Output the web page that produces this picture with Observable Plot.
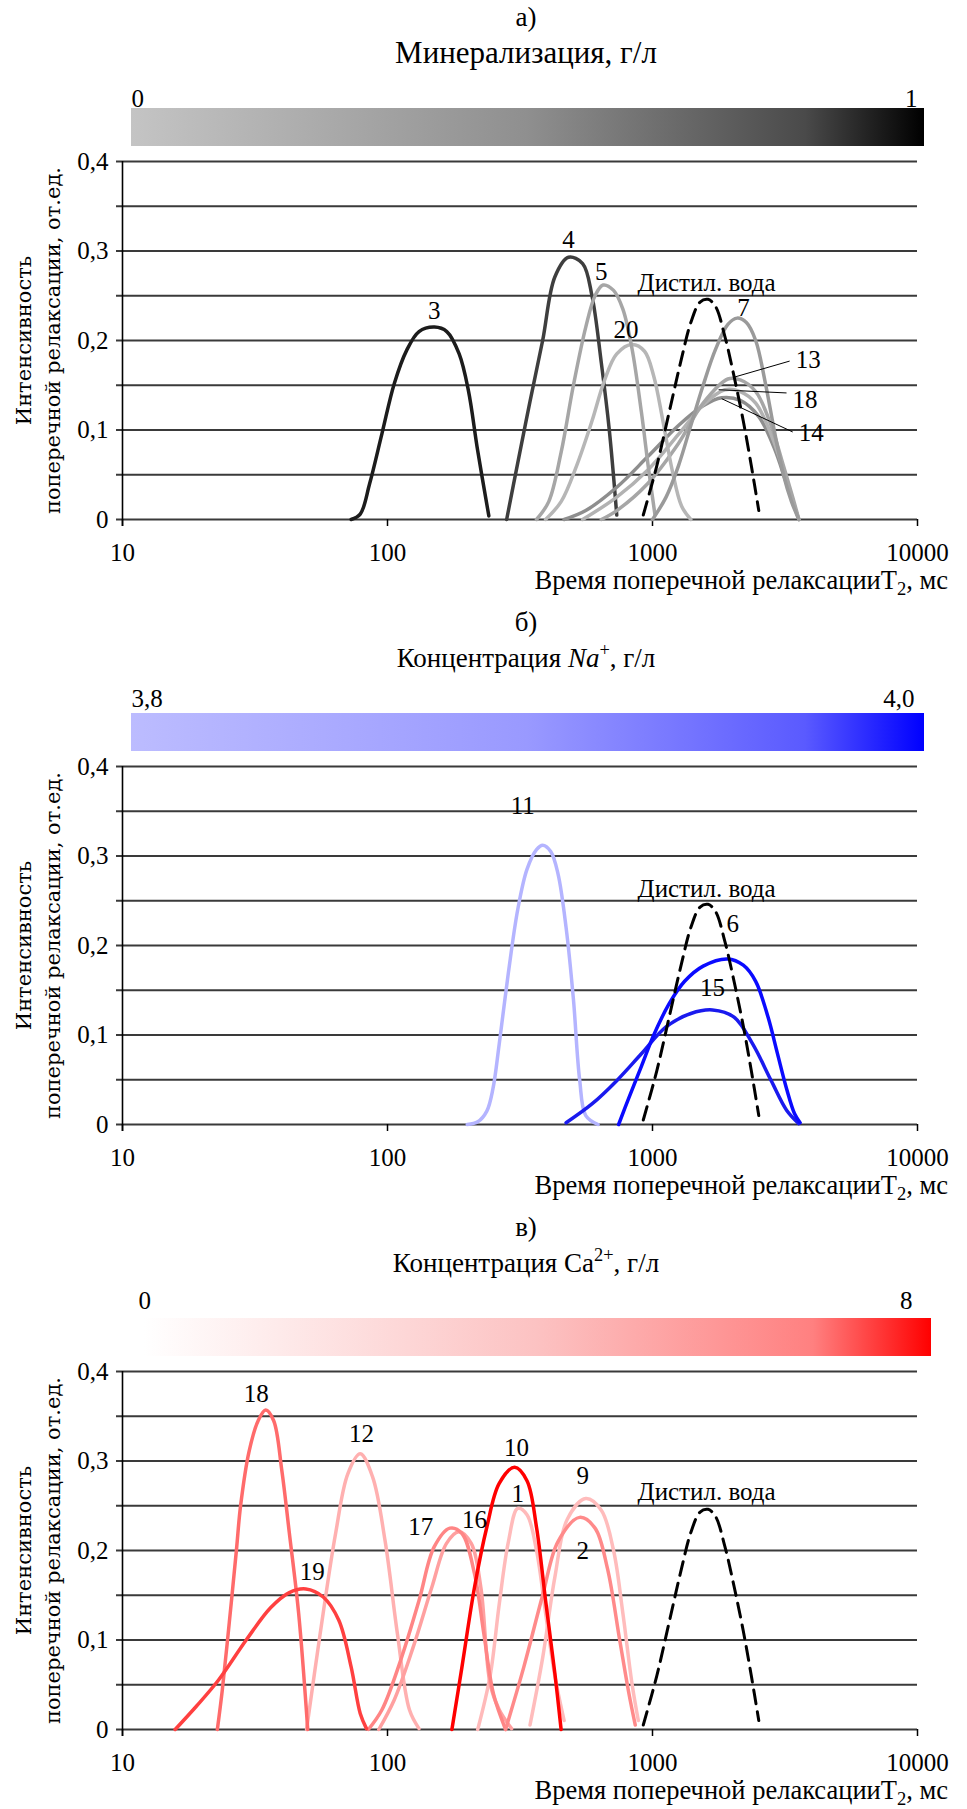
<!DOCTYPE html>
<html><head><meta charset="utf-8">
<script src="https://cdn.jsdelivr.net/npm/d3@7"></script>
<script src="https://cdn.jsdelivr.net/npm/@observablehq/plot@0.6"></script>
<style>
body{margin:0;background:#fff;}
#root{position:relative;width:967px;height:1809px;overflow:hidden;font-family:"Liberation Serif","Times New Roman","DejaVu Serif",serif;color:#000;background:#fff;}
.ttl{position:absolute;left:0;width:1052px;text-align:center;line-height:30px;white-space:nowrap;}
.xl{position:absolute;right:19px;font-size:26.5px;line-height:28px;white-space:nowrap;}
sub{font-size:70%;vertical-align:-0.3em;line-height:0;}
sup{font-size:68%;vertical-align:0.62em;line-height:0;}
</style>
</head><body><div id="root"></div>
<script>
// ---------- shared ----------
const T2_TICKS = [10, 100, 1000, 10000];
const Y_GRID = [0, 0.05, 0.1, 0.15, 0.2, 0.25, 0.3, 0.35, 0.4];
const Y_LABELS = [0, 0.1, 0.2, 0.3, 0.4];
const X_TITLE = "Время поперечной релаксацииT<sub>2</sub>, мс";
const Y_TITLE_1 = "Интенсивность";
const Y_TITLE_2 = "поперечной релаксации, от.ед.";
const WATER_NAME = "Дистил. вода";
// distilled water (same in all panels)
const waterT = [923, 1038, 1156, 1287, 1395, 1512, 1621, 1729, 1874, 2031, 2201, 2360, 2518];
const waterV = [0.005, 0.06, 0.12, 0.18, 0.22, 0.243, 0.246, 0.238, 0.205, 0.16, 0.11, 0.06, 0.01];

// ---------- panel а: mineralization ----------
const a3T = [72.9, 78.9, 85.6, 95.3, 106.1, 118.1, 131.5, 150.4, 167.4, 186.4, 202.0, 218.9, 241.2];
const a3V = [0, 0.006, 0.04, 0.096, 0.152, 0.189, 0.21, 0.215, 0.21, 0.185, 0.144, 0.077, 0.004];
const a4T = [281.6, 310, 345, 385, 428, 482, 545, 591, 641, 687, 733];
const a4V = [0, 0.063, 0.132, 0.2, 0.271, 0.293, 0.286, 0.25, 0.175, 0.1, 0.005];
const a5T = [365, 406, 452, 503, 560, 607, 651, 713, 773, 838, 908, 968, 1022];
const a5V = [0, 0.02, 0.075, 0.15, 0.215, 0.25, 0.262, 0.256, 0.235, 0.19, 0.12, 0.055, 0.005];
const a20T = [395, 452, 517, 591, 658, 733, 838, 933, 1011, 1095, 1187, 1287, 1395];
const a20V = [0, 0.02, 0.06, 0.11, 0.155, 0.185, 0.1955, 0.188, 0.16, 0.11, 0.055, 0.015, 0];
const a7T = [1000, 1125, 1253, 1395, 1553, 1729, 1925, 2086, 2261, 2451, 2656, 2879, 3120, 3346, 3568];
const a7V = [0, 0.025, 0.06, 0.105, 0.15, 0.19, 0.218, 0.225, 0.22, 0.2, 0.155, 0.1, 0.05, 0.02, 0];
const a13T = [641, 733, 958, 1253, 1553, 1925, 2143, 2451, 2803, 3120, 3382, 3568];
const a13V = [0, 0.01, 0.04, 0.085, 0.13, 0.157, 0.156, 0.143, 0.105, 0.06, 0.025, 0];
const a18T = [545, 733, 958, 1253, 1553, 1874, 2143, 2451, 2803, 3120, 3382, 3568];
const a18V = [0, 0.025, 0.055, 0.095, 0.128, 0.145, 0.143, 0.13, 0.095, 0.055, 0.02, 0];
const a14T = [464, 560, 733, 958, 1253, 1553, 1824, 2143, 2518, 2879, 3205, 3568];
const a14V = [0, 0.01, 0.036, 0.07, 0.105, 0.127, 0.136, 0.133, 0.115, 0.08, 0.04, 0];
const aLabelNames = ["3", "4", "5", "20", WATER_NAME, "7"];
const aLabelT = [150, 482, 641, 794, 1600, 2203];
const aLabelV = [0.233, 0.312, 0.277, 0.212, 0.264, 0.236];
const aLeadNames = ["13", "18", "14"];
const aLeadT1 = [2031, 1776, 1824];
const aLeadV1 = [0.159, 0.145, 0.135];
const aLeadT2 = [3292, 3205, 3382];
const aLeadV2 = [0.177, 0.1414, 0.0978];
const aLeadTextV = [0.178, 0.133, 0.097];
const aBarDomain = [0, 1];
const aBarLabels = ["0", "1"];

// ---------- panel б: Na+ ----------
const b11T = [200, 219, 237, 250, 264, 286, 310, 336, 365, 385, 413, 440, 472, 503, 531, 560, 623];
const b11V = [0, 0.003, 0.015, 0.04, 0.09, 0.17, 0.24, 0.285, 0.307, 0.312, 0.305, 0.28, 0.22, 0.14, 0.05, 0.01, 0];
const b6T = [745, 815, 908, 1011, 1156, 1322, 1553, 1923, 2201, 2451, 2729, 2957, 3206, 3437, 3606];
const b6V = [0, 0.03, 0.065, 0.1, 0.135, 0.16, 0.177, 0.185, 0.178, 0.16, 0.12, 0.08, 0.04, 0.012, 0.002];
const b15T = [472, 591, 733, 908, 1125, 1396, 1684, 2031, 2387, 2805, 3206, 3567];
const b15V = [0.002, 0.023, 0.049, 0.079, 0.109, 0.124, 0.128, 0.12, 0.09, 0.049, 0.016, 0.001];
const bLabelNames = ["11", WATER_NAME, "6", "15"];
const bLabelT = [324, 1600, 2010, 1683];
const bLabelV = [0.356, 0.263, 0.224, 0.152];
const bBarDomain = [3.8, 4.0];
const bBarLabels = ["3,8", "4,0"];

// ---------- panel в: Ca2+ ----------
const c18T = [22.8, 23.8, 25.3, 26.9, 27.9, 30.0, 32.5, 34.7, 37.2, 39.9, 42.6, 46.2, 50];
const c18V = [0, 0.044, 0.12, 0.2, 0.25, 0.31, 0.345, 0.357, 0.345, 0.29, 0.22, 0.13, 0];
const c19T = [15.8, 19, 23.0, 29.3, 36.2, 42.6, 49.2, 57.2, 65.5, 72.9, 78.9, 83.3];
const c19V = [0, 0.026, 0.055, 0.1, 0.136, 0.153, 0.157, 0.148, 0.122, 0.07, 0.018, 0.001];
const c12T = [49.5, 55.7, 63.7, 70.9, 78.9, 87.9, 97.9, 109, 121, 131.5];
const c12V = [0, 0.107, 0.219, 0.286, 0.308, 0.282, 0.211, 0.107, 0.022, 0.001];
const c17T = [84.7, 95.3, 112, 131.5, 150, 172, 191, 213, 231, 251, 279];
const c17V = [0, 0.022, 0.077, 0.144, 0.204, 0.225, 0.219, 0.174, 0.107, 0.04, 0];
const c16T = [92.7, 106, 125, 147, 167, 186, 207, 225, 244, 264, 294];
const c16V = [0, 0.033, 0.092, 0.159, 0.208, 0.221, 0.208, 0.159, 0.051, 0.022, 0.001];
const c10T = [175, 191, 213, 237, 264, 302, 336, 365, 395, 428, 452];
const c10V = [0, 0.07, 0.159, 0.226, 0.275, 0.293, 0.278, 0.226, 0.144, 0.063, 0];
const c1T = [219, 244, 264, 286, 310, 336, 365, 395, 428, 464];
const c1V = [0, 0.06, 0.14, 0.21, 0.247, 0.24, 0.2, 0.13, 0.06, 0.01];
const c9T = [345, 385, 428, 477, 560, 641, 713, 773, 838, 884];
const c9V = [0.005, 0.08, 0.17, 0.235, 0.258, 0.245, 0.2, 0.13, 0.05, 0.01];
const c2T = [279, 327, 385, 440, 531, 607, 676, 752, 815, 861];
const c2V = [0, 0.07, 0.15, 0.21, 0.237, 0.225, 0.18, 0.1, 0.04, 0.005];
const cLabelNames = ["18", "12", "10", "9", "1", WATER_NAME, "17", "16", "2", "19"];
const cLabelT = [32, 79.8, 307, 545, 310, 1600, 133.5, 213, 545, 52];
const cLabelV = [0.375, 0.330, 0.315, 0.283, 0.263, 0.265, 0.226, 0.234, 0.2, 0.176];
const cBarDomain = [0, 8];
const cBarLabels = ["0", "8"];

// ---------- styles (kept apart from data) ----------
const panels = [
  {
    key: "a", Z: 519, letter: "а)", subtitle: "Минерализация, г/л", subSize: 31,
    bar: {domain: aBarDomain, labels: aBarLabels, left: 131, right: 924, dxL: 0, dxR: -7, dy: -10,
      stops: [[0, "#c4c4c4"], [0.5, "#8f8f8f"], [0.85, "#4a4a4a"], [1, "#000000"]]},
    series: [
      {id: "3", t: a3T, v: a3V, color: "#1c1c1c"},
      {id: "4", t: a4T, v: a4V, color: "#3e3e3e"},
      {id: "14", t: a14T, v: a14V, color: "#8e8e8e"},
      {id: "18", t: a18T, v: a18V, color: "#b2b2b2"},
      {id: "13", t: a13T, v: a13V, color: "#a6a6a6"},
      {id: "20", t: a20T, v: a20V, color: "#b6b6b6"},
      {id: "5", t: a5T, v: a5V, color: "#a6a6a6"},
      {id: "7", t: a7T, v: a7V, color: "#9a9a9a"}
    ],
    labels: {names: aLabelNames, t: aLabelT, v: aLabelV},
    leads: {names: aLeadNames, t1: aLeadT1, v1: aLeadV1, t2: aLeadT2, v2: aLeadV2, tv: aLeadTextV}
  },
  {
    key: "b", Z: 1124, letter: "б)", subtitle: "Концентрация <i>Na</i><sup>+</sup>, г/л", subSize: 27,
    bar: {domain: bBarDomain, labels: bBarLabels, left: 131, right: 924, dxL: 0, dxR: -10, dy: -15,
      stops: [[0, "#bcbcff"], [0.5, "#9999ff"], [0.85, "#5a5aff"], [1, "#0000ff"]]},
    series: [
      {id: "11", t: b11T, v: b11V, color: "#b4b4ff"},
      {id: "15", t: b15T, v: b15V, color: "#1a1aee"},
      {id: "6", t: b6T, v: b6V, color: "#0a0aff"}
    ],
    labels: {names: bLabelNames, t: bLabelT, v: bLabelV}
  },
  {
    key: "c", Z: 1729, letter: "в)", subtitle: "Концентрация Ca<sup>2+</sup>, г/л", subSize: 27,
    bar: {domain: cBarDomain, labels: cBarLabels, left: 144, right: 931, dxL: -6, dxR: -19, dy: -18,
      stops: [[0, "#ffffff"], [0.5, "#fcc2c2"], [0.85, "#ff8080"], [1, "#ff0000"]]},
    series: [
      {id: "12", t: c12T, v: c12V, color: "#ffb0b0"},
      {id: "1", t: c1T, v: c1V, color: "#ffbaba"},
      {id: "9", t: c9T, v: c9V, color: "#ffbcbc"},
      {id: "16", t: c16T, v: c16V, color: "#ffa0a0"},
      {id: "17", t: c17T, v: c17V, color: "#ff8585"},
      {id: "2", t: c2T, v: c2V, color: "#ff8a8a"},
      {id: "18", t: c18T, v: c18V, color: "#ff6b6b"},
      {id: "19", t: c19T, v: c19V, color: "#ff4040"},
      {id: "10", t: c10T, v: c10V, color: "#ff0000"}
    ],
    labels: {names: cLabelNames, t: cLabelT, v: cLabelV}
  }
];

const root = document.getElementById("root");
const FONT = "'Liberation Serif', 'Times New Roman', serif";
const YFONT = "'DejaVu Serif', serif";
const waterRows = waterT.map((t, i) => ({t, v: waterV[i]}));
const fmtY = d => d === 0 ? "0" : d.toFixed(1).replace(".", ",");

function place(el, top) {
  el.style.position = "absolute";
  el.style.left = "0px";
  el.style.top = top + "px";
  root.appendChild(el);
}

for (const p of panels) {
  const Z = p.Z;
  const t1 = document.createElement("div");
  t1.className = "ttl"; t1.textContent = p.letter;
  t1.style.top = (Z - 517) + "px"; t1.style.fontSize = "27px";
  root.appendChild(t1);
  const t2 = document.createElement("div");
  t2.className = "ttl"; t2.innerHTML = p.subtitle;
  t2.style.top = (Z - 481) + "px"; t2.style.fontSize = p.subSize + "px";
  root.appendChild(t2);

  // colour bar (legend)
  const b = p.bar;
  const gid = "grad-" + p.key;
  const barTop = 30, barH = 38;
  const bar = Plot.plot({
    width: 967, height: barTop + barH,
    marginLeft: b.left, marginRight: 967 - b.right, marginTop: barTop, marginBottom: 0,
    style: {background: "transparent", fontFamily: FONT},
    x: {domain: b.domain, axis: null},
    marks: [
      () => {
        const defs = d3.create("svg:defs");
        const g = defs.append("linearGradient").attr("id", gid)
          .attr("x1", "0").attr("x2", "1").attr("y1", "0").attr("y2", "0");
        for (const [o, c] of b.stops) g.append("stop").attr("offset", o).attr("stop-color", c);
        return defs.node();
      },
      Plot.rect([{lo: b.domain[0], hi: b.domain[1]}], {x1: "lo", x2: "hi", fill: `url(#${gid})`}),
      Plot.text([b.domain[0]], {x: d => d, text: () => b.labels[0], frameAnchor: "top", dy: b.dy,
        dx: b.dxL, textAnchor: "start", lineAnchor: "middle", fontSize: 25, fontFamily: FONT, fill: "#000"}),
      Plot.text([b.domain[1]], {x: d => d, text: () => b.labels[1], frameAnchor: "top", dy: b.dy,
        dx: b.dxR, textAnchor: "end", lineAnchor: "middle", fontSize: 25, fontFamily: FONT, fill: "#000"})
    ]
  });
  place(bar, Z - 411 - barTop);

  // main chart
  const rows = p.series.flatMap(s => s.t.map((t, i) => ({id: s.id, t, v: s.v[i]})));
  const colorOf = Object.fromEntries(p.series.map(s => [s.id, s.color]));
  const labelRows = p.labels.names.map((n, i) => ({n, t: p.labels.t[i], v: p.labels.v[i]}));
  const mt = 14, ph = 358, mb = 52;
  const marks = [
    Plot.ruleY(Y_GRID, {stroke: "#3a3a3a", strokeWidth: 2, insetLeft: -6}),
    Plot.ruleX([10], {stroke: "#000", strokeWidth: 1.6, insetBottom: -7}),
    Plot.axisX({ticks: T2_TICKS, tickSize: 7, tickPadding: 17, tickFormat: d => String(d),
      fontSize: 25, fontFamily: FONT, stroke: "#000", strokeWidth: 1.5, label: null}),
    Plot.axisY({ticks: Y_LABELS, tickSize: 0, tickPadding: 14, tickFormat: fmtY,
      fontSize: 25, fontFamily: FONT, label: null}),
    Plot.text([Y_TITLE_1], {text: d => d, frameAnchor: "left", dx: -98, rotate: -90,
      textAnchor: "middle", lineAnchor: "middle", fontFamily: YFONT, fontSize: 21, fill: "#000"}),
    Plot.text([Y_TITLE_2], {text: d => d, frameAnchor: "left", dx: -69, rotate: -90,
      textAnchor: "middle", lineAnchor: "middle", fontFamily: YFONT, fontSize: 21, fill: "#000"}),
    Plot.line(rows, {x: "t", y: "v", z: "id", stroke: d => colorOf[d.id], strokeWidth: 3.5,
      curve: "catmull-rom"}),
    Plot.line(waterRows, {x: "t", y: "v", stroke: "#000", strokeWidth: 3,
      strokeDasharray: "14,8", curve: "catmull-rom"}),
    Plot.text(labelRows, {x: "t", y: "v", text: "n", fontSize: 25, fontFamily: FONT, fill: "#000"})
  ];
  if (p.leads) {
    const L = p.leads;
    const leadRows = L.names.map((n, i) => ({n, t1: L.t1[i], v1: L.v1[i], t2: L.t2[i], v2: L.v2[i], tv: L.tv[i]}));
    marks.push(Plot.link(leadRows, {x1: "t1", y1: "v1", x2: "t2", y2: "v2", stroke: "#000", strokeWidth: 1}));
    marks.push(Plot.text(leadRows, {x: "t2", y: "tv", text: "n", dx: 6, textAnchor: "start",
      fontSize: 25, fontFamily: FONT, fill: "#000"}));
  }
  const chart = Plot.plot({
    width: 967, height: mt + ph + mb,
    marginLeft: 122, marginRight: 50, marginTop: mt, marginBottom: mb,
    style: {background: "transparent", fontFamily: FONT, color: "#000"},
    x: {type: "log", domain: [10, 10000], label: null},
    y: {domain: [0, 0.4], label: null},
    color: {type: "identity"},
    marks
  });
  place(chart, Z - ph - mt);

  const xl = document.createElement("div");
  xl.className = "xl"; xl.innerHTML = X_TITLE; xl.style.top = (Z + 47) + "px";
  root.appendChild(xl);
}
</script>
</body></html>
